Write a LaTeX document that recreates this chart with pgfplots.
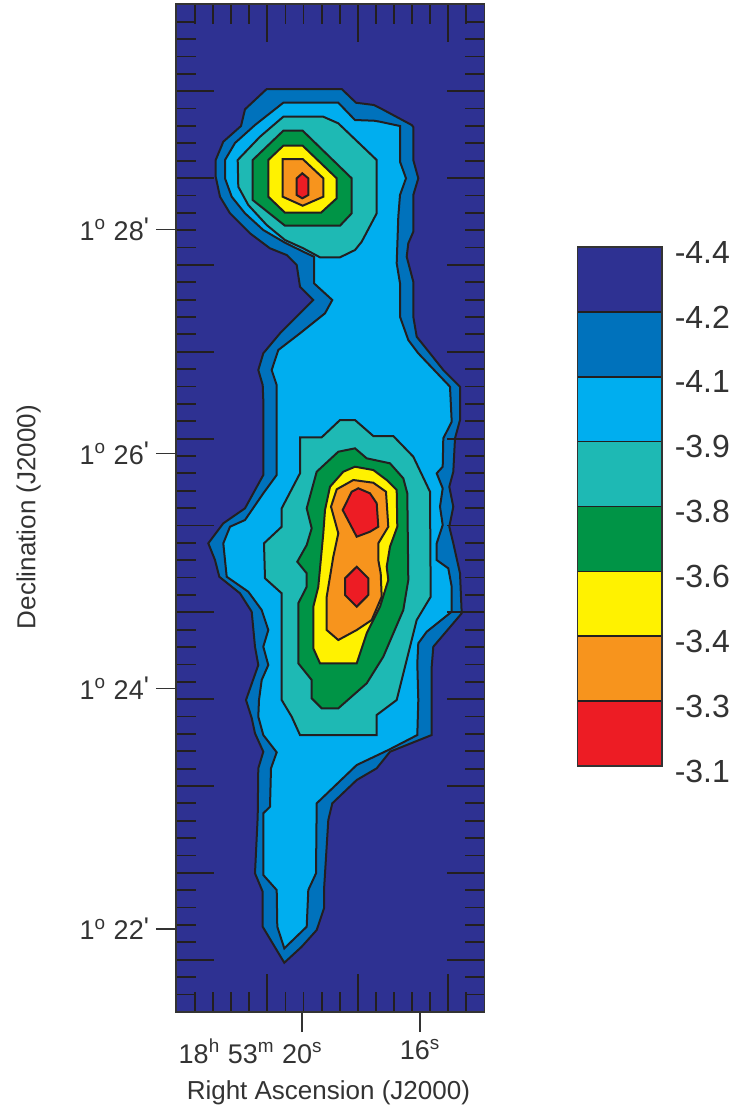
\documentclass[border=0pt]{standalone}
\usepackage{pgfplots}
\pgfplotsset{compat=1.18}
\usepackage{fontspec}
\setmainfont{Liberation Sans}
\definecolor{cNavy}{RGB}{46,49,146}
\definecolor{cBlue}{RGB}{0,114,188}
\definecolor{cLight}{RGB}{0,174,239}
\definecolor{cTeal}{RGB}{30,185,180}
\definecolor{cGreen}{RGB}{0,148,70}
\definecolor{cYellow}{RGB}{255,242,0}
\definecolor{cOrange}{RGB}{247,148,29}
\definecolor{cRed}{RGB}{237,28,36}
\definecolor{cLine}{RGB}{35,31,32}
\definecolor{cText}{RGB}{51,51,51}
\pgfplotsset{contour/.style={draw=cLine, line width=1pt, line join=miter}}
\newcommand{\dms}[1]{1\textsuperscript{o} #1\raisebox{0.12em}{\textquotesingle}}
\begin{document}
\begin{tikzpicture}
\path[use as bounding box] (0,0) rectangle (367.5pt,-557.5pt);
% ---------------- main map ----------------
\begin{axis}[
  at={(88pt,-2pt)}, anchor=north west,
  scale only axis, width=154.25pt, height=504pt,
  xmin=176, xmax=484.5, ymin=4, ymax=1012, y dir=reverse,
  axis background/.style={fill=cNavy},
  axis line style={draw=cText, line width=0.9pt},
  tick align=inside,
  xtick={267.36,357.81,448.26},
  minor xtick={195,213.09,...,467},
  ytick={91.18,178.03,...,960},
  minor ytick={21.7,39.07,...,995},
  xticklabels={}, yticklabels={},
  major tick length=18.85pt, minor tick length=9.85pt,
  tick style={draw=cLine, line width=0.9pt},
  axis on top,
]
% level -4.2
\addplot[contour, fill=cBlue] coordinates {
(266.7,89) (341.7,89) (356,102.7) (374,105) (380,108) (411.7,125)
(413.3,127) (413.3,160) (418.3,178.3) (413.3,195) (413.3,231.7) (408.3,243.3)
(406.7,256.7) (413.3,281.7) (413.3,316.7) (416.7,336.7) (430,353.3) (443.3,370)
(460,386.7) (460,420) (455,438.3) (453.3,471.7) (449.3,486.7) (453.3,506.7)
(449.3,526.7) (453.3,543.3) (460,573.3) (461.7,613.3) (433.3,646.7) (431.7,666.7)
(431.7,735) (390,751.7) (376.7,768.3) (356.7,780) (332.3,803.3) (328.3,820)
(324,890) (324,908.3) (316.7,930) (301.7,946.7) (284.3,962.7)
(262.7,926.7) (262.7,891.7) (255,873.3) (257.7,816.7) (258.3,768.3) (263.3,751.7)
(255,733.3) (251.7,718) (246,700) (258.3,665) (255,646.7) (251.7,611.7)
(240,593.3) (219.3,576.7) (215,560) (208.3,543.3) (223.3,523.3) (245,508.3)
(263.3,475) (263.3,400) (262.7,385) (258.3,370) (263.3,353.3) (280,333.3)
(300,313.3) (313.3,300) (300,286.7) (296.7,265) (286.7,255) (270,248.3)
(250,233.3) (230,213.3) (220,196.7) (215.7,176.7) (215.7,160) (223.3,141.7)
(241,126) (245,109.3)
} -- cycle;
% level -4.1
\addplot[contour, fill=cLight] coordinates {
(283.3,102.7) (338.3,102.7) (355,120) (374,120.7) (380,121.7) (400,126)
(400,161.7) (406,178.3) (400,195) (398.3,216.7) (396.7,263.3) (400,283.3)
(400,316.7) (408.3,340) (418.3,353.3) (450,386.7) (451.7,421.7) (443.3,438.3)
(442.7,466.7) (436.7,473.3) (442.7,488.3) (440,506.7) (442.7,525) (436.7,543.3)
(436.7,560) (448.3,568.3) (451.7,586.7) (451.7,611.7) (426.7,631.7) (418.3,643.3)
(417.3,663.3) (418.3,700) (417.3,735) (388.3,750) (356.7,765) (316.7,803.3)
(316,873.3) (308.3,890) (306.7,926.7) (284.3,948.3)
(277.3,926.7) (276.7,890) (263.3,875) (263.3,813.3) (270,806.7) (271,768.3)
(276.7,752.3) (263.3,735) (258.3,716.7) (259,700) (261.7,680) (268.3,665)
(263.3,646.7) (268.3,630) (261.7,610) (248.3,591.7) (226.7,576.7) (225,560)
(223.3,543.3) (230,526.7) (245,520) (263.3,493.3) (276.7,475) (276.7,400)
(276.7,385) (271.7,370) (278.3,350) (300,333.3) (325,313.3) (332.3,300)
(314,283.3) (314,265) (314,256.7) (303.3,251.7) (285,242.7) (263.3,230)
(245,213.3) (231.7,196.7) (225,178.3) (225,160) (235,143) (255,125)
} -- cycle;
% level -3.9
\addplot[contour, fill=cTeal] coordinates {
(283.3,116.7) (323.3,116.7) (338.3,123.3) (376.7,160) (376.7,213.3) (361.7,241.7)
(355,250) (340,257.3) (320,257.3) (303.3,248.3) (285,240) (266.7,225)
(248.3,205) (238.3,186.7) (237.7,160) (260,136.7)
} -- cycle;
\addplot[contour, fill=cTeal] coordinates {
(300,437.3) (321.7,437.3) (340,420) (355,420) (373.3,436) (393.3,436)
(413.3,456.7) (430,491.7) (430.7,596.7) (416.7,620) (396.7,700) (376.7,715)
(376.7,735) (300,735) (291.7,716.7) (281.7,700) (281.7,593.3) (265,578.3)
(264,543.3) (281.7,526.7) (281.7,508.3) (300,473.3)
} -- cycle;
% level -3.8
\addplot[contour, fill=cGreen] coordinates {
(283.3,130.7) (302.7,130.7) (351.7,178.3) (351.7,213.3) (340,225.7) (285,225.7)
(252.7,200) (252.7,160)
} -- cycle;
\addplot[contour, fill=cGreen] coordinates {
(338.3,451.7) (355,448.3) (366.7,458.3) (390,463.3) (403.3,478.3) (407.3,493.3)
(408.3,580) (403.3,610) (383.3,656.7) (366.7,683.3) (338.3,708.3) (321.7,708.3)
(311.7,698.3) (311.7,680) (298.3,663.3) (298.3,603.3) (306.7,586.7) (306.7,573.3)
(297.3,561.7) (306.7,545) (311.7,528.3) (306.7,508.3) (316.7,471.7)
} -- cycle;
% level -3.6
\addplot[contour, fill=cYellow] coordinates {
(283.3,145.7) (302.7,145.7) (336.7,178.3) (336.7,198.3) (321,212.7) (285,212.7)
(268.3,196.7) (268.3,160)
} -- cycle;
\addplot[contour, fill=cYellow] coordinates {
(343.3,471.7) (355,466.7) (373.3,470) (386.7,480) (396.7,490) (397.3,526.7)
(390,546.7) (386.7,566.7) (388.3,580) (380,606.7) (366.7,633.3) (356.7,663.3)
(320,663.3) (313.3,648.3) (313.3,606.7) (318.3,586.7) (323.3,533.3) (325,510)
(330,486.7)
} -- cycle;
% level -3.4
\addplot[contour, fill=cOrange] coordinates {
(282.7,159) (302.7,159) (323.3,178.3) (323.3,196.7) (302.7,205.7) (282.7,196.7)
} -- cycle;
\addplot[contour, fill=cOrange] coordinates {
(336.7,489.3) (353.3,480) (373.3,482.7) (386,491.7) (388.3,526.7) (378.3,543.3)
(378.3,560) (380.7,573.3) (381.7,596.7) (371.7,620) (356.7,630) (338.3,640)
(326.7,630) (326.7,596.7) (333.3,556.7) (338.3,533.3) (331,506.7)
} -- cycle;
% level -3.3
\addplot[contour, fill=cRed] coordinates {
(296.7,178.3) (302.3,173.3) (308.3,178.3) (308.3,195) (302.3,198.3) (296.7,195)
} -- cycle;
\addplot[contour, fill=cRed] coordinates {
(351.7,491.7) (358.3,488.3) (370,493.3) (376.7,503.3) (378.3,526.7) (370,531.7)
(356.7,536.7) (342.7,510)
} -- cycle;
\addplot[contour, fill=cRed] coordinates {
(345,578.3) (356.7,566.7) (368.3,578.3) (368.3,595) (356.7,606.7) (345,595)
} -- cycle;
\end{axis}
% ---------------- labels and outer ticks ----------------
\begin{axis}[
  at={(88pt,-2pt)}, anchor=north west,
  scale only axis, width=154.25pt, height=504pt,
  xmin=176, xmax=484.5, ymin=4, ymax=1012, y dir=reverse,
  axis line style={draw=none},
  tick align=outside,
  xtick pos=bottom, ytick pos=left,
  xtick={302.3,420},
  xticklabels={\llap{18\textsuperscript{h} 53\textsuperscript{m} }20\textsuperscript{s}, 16\textsuperscript{s}},
  ytick={229.3,453.3,688.3,928.7},
  yticklabels={\dms{28}, \dms{26}, \dms{24}, \dms{22}},
  major tick length=10pt,
  tick style={draw=cText, line width=0.8pt},
  ticklabel style={font=\fontsize{13.5}{16}\selectfont, text=cText},
  xlabel={Right Ascension (J2000)}, ylabel={Declination (J2000)},
  label style={font=\fontsize{13}{16}\selectfont, text=cText},
  xlabel style={at={(axis description cs:0.494,-0.08)}, anchor=center},
  ylabel style={at={(axis description cs:-0.478,0.491)}, anchor=center},
]
\end{axis}
% ---------------- colour bar ----------------
\begin{axis}[
  at={(288.65pt,-123.5pt)}, anchor=north west,
  scale only axis, width=42.2pt, height=259.5pt,
  xmin=0, xmax=1, ymin=0, ymax=8, y dir=reverse,
  axis line style={draw=cText, line width=0.8pt},
  xtick=\empty, ytick={0,...,8},
  yticklabels={-4.4,-4.2,-4.1,-3.9,-3.8,-3.6,-3.4,-3.3,-3.1},
  yticklabel pos=right, major tick length=0pt,
  yticklabel style={font=\fontsize{16}{19}\selectfont, text=cText, yshift=-2.5pt, xshift=3pt},
  axis on top,
]
\addplot[contour, line width=0.8pt, fill=cNavy] coordinates {(0,0) (1,0) (1,1) (0,1)} -- cycle;
\addplot[contour, line width=0.8pt, fill=cBlue] coordinates {(0,1) (1,1) (1,2) (0,2)} -- cycle;
\addplot[contour, line width=0.8pt, fill=cLight] coordinates {(0,2) (1,2) (1,3) (0,3)} -- cycle;
\addplot[contour, line width=0.8pt, fill=cTeal] coordinates {(0,3) (1,3) (1,4) (0,4)} -- cycle;
\addplot[contour, line width=0.8pt, fill=cGreen] coordinates {(0,4) (1,4) (1,5) (0,5)} -- cycle;
\addplot[contour, line width=0.8pt, fill=cYellow] coordinates {(0,5) (1,5) (1,6) (0,6)} -- cycle;
\addplot[contour, line width=0.8pt, fill=cOrange] coordinates {(0,6) (1,6) (1,7) (0,7)} -- cycle;
\addplot[contour, line width=0.8pt, fill=cRed] coordinates {(0,7) (1,7) (1,8) (0,8)} -- cycle;
\end{axis}
\end{tikzpicture}
\end{document}
